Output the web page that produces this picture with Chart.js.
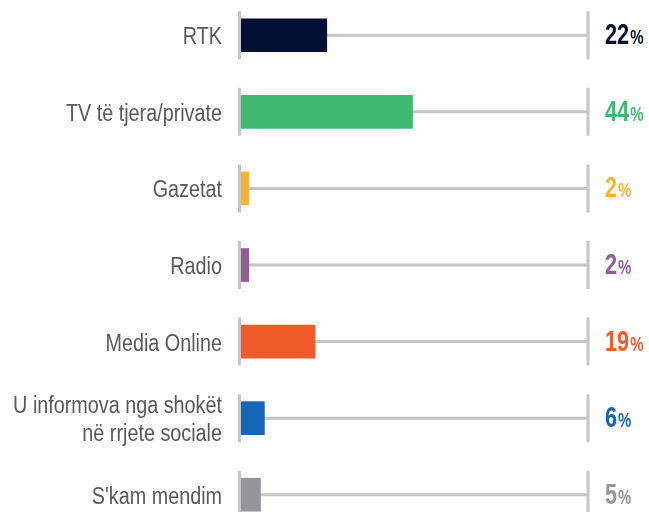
<!DOCTYPE html>
<html>
<head>
<meta charset="utf-8">
<script src="https://cdn.jsdelivr.net/npm/chart.js@4"></script>
<style>
  html, body { margin: 0; padding: 0; background: #fff; overflow: hidden; }
  #wrap { position: absolute; left: 0; top: -3px; width: 649px; height: 536px; }
</style>
</head>
<body>
<div id="wrap"><canvas id="mediaChart"></canvas></div>
<script>
    // kategoritë dhe vlerat (%)
    const categories = [
        'RTK',
        'TV të tjera/private',
        'Gazetat',
        'Radio',
        'Media Online',
        ['U informova nga shokët', 'në rrjete sociale'],
        "S'kam mendim"
    ];
    const shares = [22, 44, 2, 2, 19, 6, 5];
    const barColors = ['#000f33', '#3dba6f', '#f9b233', '#8e5e96', '#f15a2b', '#1565b8', '#939598'];
    const axisMax = 89;

    const FONT = "'Liberation Sans', Arial, sans-serif";
    const TRACK = '#c6c6c8';
    const LABEL = '#58595b';
    const NARROW = 0.86;   // fonti i ngushtë i origjinalit

    function narrowText(ctx, text, x, y, sx) {
        ctx.save();
        ctx.translate(x, y);
        ctx.scale(sx, 1);
        ctx.fillText(text, 0, 0);
        ctx.restore();
    }

    // vija gri, ndarëset, emrat dhe vlerat
    const trackPlugin = {
        id: 'tracks',
        beforeDatasetsDraw(chart) {
            const { ctx } = chart;
            const xs = chart.scales.x, ys = chart.scales.y;
            const x0 = xs.getPixelForValue(0), x1 = xs.getPixelForValue(axisMax);
            ctx.save();
            ctx.strokeStyle = TRACK;
            ctx.lineWidth = 3;
            categories.forEach((c, i) => {
                const y = ys.getPixelForValue(i);
                ctx.beginPath();
                ctx.moveTo(x0, y); ctx.lineTo(x1, y);
                ctx.moveTo(x0 - 1.5, y - 24); ctx.lineTo(x0 - 1.5, y + 24);
                ctx.moveTo(x1, y - 24); ctx.lineTo(x1, y + 24);
                ctx.stroke();
            });
            ctx.restore();
        },
        afterDatasetsDraw(chart) {
            const { ctx } = chart;
            const xs = chart.scales.x, ys = chart.scales.y;
            const lx = xs.getPixelForValue(axisMax) + 17;
            const rx = xs.getPixelForValue(0) - 19;
            ctx.save();
            ctx.textBaseline = 'alphabetic';

            // emrat e kategorive
            ctx.textAlign = 'right';
            ctx.fillStyle = LABEL;
            ctx.font = '23px ' + FONT;
            categories.forEach((c, i) => {
                const y = ys.getPixelForValue(i) + 9;
                const lines = Array.isArray(c) ? c : [c];
                const off = (lines.length - 1) * 28 / 2;
                lines.forEach((t, k) => narrowText(ctx, t, rx, y - off + k * 28, NARROW));
            });

            // vlerat
            ctx.textAlign = 'left';
            shares.forEach((v, i) => {
                const y = ys.getPixelForValue(i) + 9;
                ctx.fillStyle = barColors[i];
                ctx.font = 'bold 29px ' + FONT;
                const num = String(v);
                narrowText(ctx, num, lx, y, 0.75);
                const w = ctx.measureText(num).width * 0.75;
                ctx.font = 'bold 20px ' + FONT;
                narrowText(ctx, '%', lx + w + 1, y, 0.75);
            });
            ctx.restore();
        }
    };

    const ctx = document.getElementById('mediaChart').getContext('2d');

    const mediaChart = new Chart(ctx, {
        type: 'bar',
        data: {
            labels: categories,
            datasets: [{
                data: shares,
                backgroundColor: barColors,
                borderWidth: 0,
                barThickness: 33
            }]
        },
        options: {
            indexAxis: 'y',
            responsive: true,
            maintainAspectRatio: false,
            animation: false,
            layout: { padding: { left: 0, right: 61, top: 0, bottom: 0 } },
            plugins: {
                legend: { display: false },
                tooltip: { enabled: false }
            },
            scales: {
                x: {
                    display: false,
                    min: 0,
                    max: axisMax
                },
                y: {
                    grid: { display: false },
                    border: { display: false },
                    ticks: { display: false },
                    afterFit(scale) { scale.width = 241; }
                }
            }
        },
        plugins: [trackPlugin]
    });
</script>
</body>
</html>
